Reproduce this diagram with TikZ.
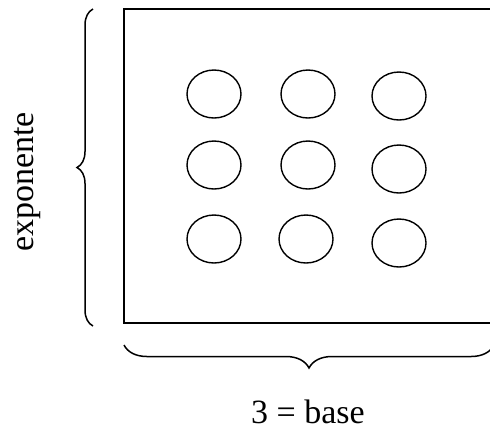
\documentclass[tikz,border=0pt]{standalone}
\usepackage{fontspec}
\setmainfont{Liberation Serif}
\usetikzlibrary{decorations.pathreplacing, shapes.geometric}

\begin{document}
\begin{tikzpicture}[
    x=0.5pt, y=-0.5pt,
    dot/.style={draw, ellipse, line width=0.7pt, minimum width=27pt, minimum height=24pt, inner sep=0pt},
    txt/.style={font=\fontsize{17}{20}\selectfont, inner sep=0pt},
    curly/.style={decorate, decoration={brace, amplitude=#1}, line width=0.75pt}
]
    \useasboundingbox (0,0) rectangle (490,430);
    \clip (0,0) rectangle (490,430);

    % frame, cut off at the right
    \coordinate (tr) at (496,9);
    \coordinate (tl) at (124,9);
    \coordinate (bl) at (124,323);
    \coordinate (br) at (496,323);
    \draw[line width=1pt] (tr) -- (tl) -- (bl) -- (br);

    % the nine dots
    \foreach \x/\y [count=\i] in {214/94, 308/94, 399/96,
                                  214/165, 308/165, 399/169,
                                  214/239, 306/239, 399/243}
        \node[dot] (d\i) at (\x,\y) {};

    % braces
    \coordinate (lb) at (93,326);
    \coordinate (lt) at (93,9);
    \draw[curly=8pt] (lb) -- (lt);
    \coordinate (ul) at (124,345);
    \coordinate (ur) at (494,345);
    \draw[curly=11.5pt] (ur) -- (ul);

    \node[txt, rotate=90, anchor=base] (expo) at (33,182) {exponente};
    \node[txt, anchor=base] (base) at (308,423) {3 = base};
\end{tikzpicture}
\end{document}
